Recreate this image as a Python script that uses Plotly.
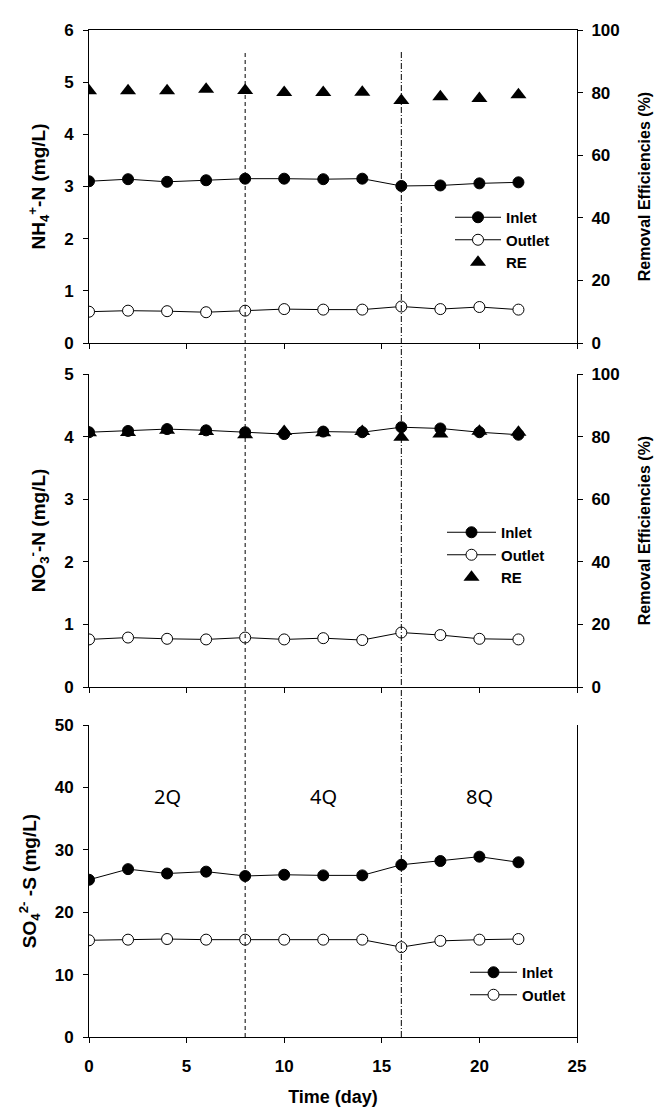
import plotly.graph_objects as go

days = [0, 2, 4, 6, 8, 10, 12, 14, 16, 18, 20, 22]

nh4_inlet = [3.10, 3.14, 3.09, 3.12, 3.15, 3.15, 3.14, 3.15, 3.01, 3.02, 3.06, 3.08]
nh4_outlet = [0.60, 0.62, 0.61, 0.59, 0.62, 0.65, 0.64, 0.64, 0.70, 0.65, 0.69, 0.64]
nh4_re = [80.6, 80.6, 80.6, 81.1, 80.7, 80.0, 80.0, 80.1, 77.5, 78.7, 78.1, 79.3]

no3_inlet = [4.07, 4.09, 4.12, 4.10, 4.07, 4.04, 4.08, 4.07, 4.15, 4.13, 4.07, 4.03]
no3_outlet = [0.76, 0.79, 0.77, 0.76, 0.79, 0.76, 0.78, 0.75, 0.87, 0.83, 0.77, 0.76]
no3_re = [81.2, 81.3, 82.0, 81.6, 80.6, 81.6, 81.2, 81.6, 79.8, 80.8, 81.7, 81.4]

so4_inlet = [25.2, 26.9, 26.2, 26.5, 25.8, 26.0, 25.9, 25.9, 27.6, 28.2, 28.9, 28.0]
so4_outlet = [15.5, 15.6, 15.7, 15.6, 15.6, 15.6, 15.6, 15.6, 14.4, 15.4, 15.6, 15.7]

phase_labels = ["2Q", "4Q", "8Q"]
phase_x = [4, 12, 20]
phase_y = [38.5, 38.5, 38.5]
phase_bounds = [8, 16]

x_ticks = [0, 5, 10, 15, 20, 25]

FONT = "Liberation Sans, Arial, sans-serif"
LINE = dict(color="black", width=1)

# page body has an 8px margin: figure canvas starts at (8, 8); keep page inside 664x1115
OFF = 8
W, H_FIG = 664 - 2 * OFF, 1115 - 2 * OFF
PL, PR, PT, PB = 89, 577, 30, 1037  # plot area in page pixels

fig = go.Figure()

def inlet(x, y, xa, ya, legend):
    return go.Scatter(x=x, y=y, xaxis=xa, yaxis=ya, mode="lines+markers", name="Inlet",
                      line=LINE, marker=dict(symbol="circle", size=11, color="black",
                                             line=dict(color="black", width=1)),
                      legend=legend)

def outlet(x, y, xa, ya, legend):
    return go.Scatter(x=x, y=y, xaxis=xa, yaxis=ya, mode="lines+markers", name="Outlet",
                      line=LINE, marker=dict(symbol="circle", size=11, color="white",
                                             line=dict(color="black", width=1)),
                      legend=legend)

def re(x, y, xa, ya, legend):
    return go.Scatter(x=x, y=y, xaxis=xa, yaxis=ya, mode="markers", name="RE",
                      marker=dict(symbol="triangle-up", size=14, color="black"),
                      legend=legend)

# Panel 1
fig.add_trace(inlet(days, nh4_inlet, "x", "y", "legend"))
fig.add_trace(outlet(days, nh4_outlet, "x", "y", "legend"))
fig.add_trace(re(days, nh4_re, "x", "y2", "legend"))
# Panel 2
fig.add_trace(re(days, no3_re, "x2", "y4", "legend2"))
fig.add_trace(inlet(days, no3_inlet, "x2", "y3", "legend2"))
fig.add_trace(outlet(days, no3_outlet, "x2", "y3", "legend2"))
# Panel 3
fig.add_trace(inlet(days, so4_inlet, "x3", "y5", "legend3"))
fig.add_trace(outlet(days, so4_outlet, "x3", "y5", "legend3"))

tickfont = dict(family=FONT, size=17, color="black", weight="bold")
titlefont = dict(family=FONT, size=19, color="black", weight="bold")
rtitlefont = dict(family=FONT, size=16, color="black", weight="bold")
legfont = dict(family=FONT, size=15, color="black", weight="bold")

HP = PB - PT
WP = PR - PL
def dom(top_px, bot_px):
    return [(PB - bot_px) / HP, (PB - top_px) / HP]

def lx(px):
    return (px - PL) / WP

def ly(py):
    return (PB - py) / HP

d1 = dom(30, 343)
d2 = dom(374, 687)
d3 = dom(725, 1037)

xcommon = dict(range=[0, 25], tickvals=x_ticks, showline=True, linecolor="black", linewidth=1,
               ticks="outside", ticklen=5, tickcolor="black", showgrid=False, zeroline=False,
               domain=[0, 1], tickfont=tickfont, automargin=False)

ycommon = dict(showline=True, linecolor="black", linewidth=1, ticks="outside", ticklen=5,
               tickcolor="black", showgrid=False, zeroline=False, tickfont=tickfont,
               ticklabelstandoff=6, automargin=False)

fig.update_layout(
    width=W, height=H_FIG,
    margin=dict(l=PL - OFF, r=W - (PR - OFF), t=PT - OFF, b=H_FIG - (PB - OFF), autoexpand=False),
    paper_bgcolor="white", plot_bgcolor="white",
    font=dict(family=FONT, color="black"),
    xaxis=dict(xcommon, anchor="y", showticklabels=False, mirror=True),
    xaxis2=dict(xcommon, anchor="y3", showticklabels=False, matches="x"),
    xaxis3=dict(xcommon, anchor="y5", matches="x", ticklabelstandoff=9,
                title=dict(text="Time (day)", font=dict(family=FONT, size=18, color="black", weight="bold"),
                           standoff=15)),
    yaxis=dict(ycommon, domain=d1, anchor="x", range=[0, 6], tickvals=[0, 1, 2, 3, 4, 5, 6],
               title=dict(text="NH<sub>4</sub><sup>+</sup>-N (mg/L)", font=titlefont, standoff=13)),
    yaxis2=dict(ycommon, domain=d1, anchor="x", overlaying="y", side="right", range=[0, 100],
                tickvals=[0, 20, 40, 60, 80, 100], ticklabelstandoff=5,
                title=dict(text="Removal Efficiencies (%)", font=rtitlefont, standoff=20)),
    yaxis3=dict(ycommon, domain=d2, anchor="x2", range=[0, 5], tickvals=[0, 1, 2, 3, 4, 5],
                title=dict(text="NO<sub>3</sub><sup>-</sup>-N (mg/L)", font=titlefont, standoff=13)),
    yaxis4=dict(ycommon, domain=d2, anchor="x2", overlaying="y3", side="right", range=[0, 100],
                tickvals=[0, 20, 40, 60, 80, 100], ticklabelstandoff=5,
                title=dict(text="Removal Efficiencies (%)", font=rtitlefont, standoff=20)),
    yaxis5=dict(ycommon, domain=d3, anchor="x3", range=[0, 50], tickvals=[0, 10, 20, 30, 40, 50],
                mirror=True,
                title=dict(text="SO<sub>4</sub><sup>2-</sup> -S (mg/L)", font=titlefont, standoff=13)),
    legend=dict(x=lx(450), y=ly(201), xanchor="left", yanchor="top",
                bgcolor="rgba(0,0,0,0)", font=legfont, tracegroupgap=0, itemwidth=46),
    legend2=dict(x=lx(442), y=ly(516), xanchor="left", yanchor="top",
                 bgcolor="rgba(0,0,0,0)", font=legfont, tracegroupgap=0, itemwidth=49),
    legend3=dict(x=lx(465), y=ly(956), xanchor="left", yanchor="top",
                 bgcolor="rgba(0,0,0,0)", font=legfont, tracegroupgap=0, itemwidth=47),
)

# legend2 ordering: Inlet, Outlet, RE
fig.data[3].legendrank = 3
fig.data[4].legendrank = 1
fig.data[5].legendrank = 2

top_line = ly(52)
dashes = ["4px,3px", "6px,2px,1px,2px"]
for xb, dsh in zip(phase_bounds, dashes):
    fig.add_shape(type="line", xref="x", yref="paper", x0=xb, x1=xb, y0=0, y1=top_line,
                  line=dict(color="black", width=1, dash=dsh), layer="above")

for lab, xv, yv in zip(phase_labels, phase_x, phase_y):
    fig.add_annotation(x=xv, y=yv, xref="x3", yref="y5", text=lab, showarrow=False,
                       font=dict(family="Noto Sans, sans-serif", size=20, color="black"))

fig.write_html("out.html")
